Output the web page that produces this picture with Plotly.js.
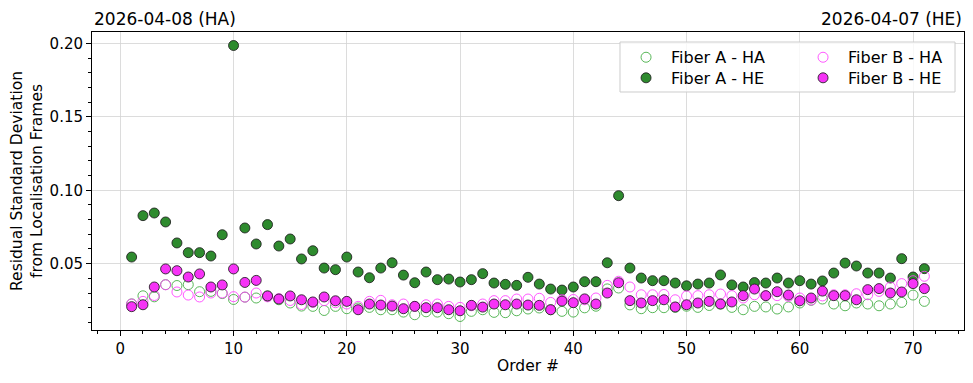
<!DOCTYPE html>
<html>
<head>
<meta charset="utf-8">
<script src="https://cdn.plot.ly/plotly-3.0.1.min.js"></script>
<style>html,body{margin:0;padding:0;background:#fff;}#chart{width:973px;height:383px;}</style>
</head>
<body>
<div id="chart"></div>
<script>
const orders = Array.from({length: 71}, (_, i) => i + 1);

const fiberA_HA = [0.0226,0.0281,0.0274,0.0357,0.0351,0.0357,0.0309,0.0311,0.0296,0.0256,
0.0272,0.0266,0.0280,0.0254,0.0232,0.0211,0.0209,0.0181,0.0209,0.0193,
0.0198,0.0202,0.0186,0.0186,0.0170,0.0152,0.0172,0.0170,0.0159,0.0140,
0.0175,0.0186,0.0168,0.0166,0.0179,0.0191,0.0198,0.0186,0.0175,0.0170,
0.0199,0.0210,0.0328,0.0334,0.0219,0.0193,0.0200,0.0200,0.0202,0.0210,
0.0202,0.0215,0.0225,0.0202,0.0186,0.0209,0.0205,0.0191,0.0205,0.0232,
0.0250,0.0259,0.0225,0.0213,0.0232,0.0225,0.0213,0.0225,0.0236,0.0286,0.0243];

const fiberA_HE = [0.0545,0.0827,0.0845,0.0784,0.0641,0.0575,0.0575,0.0552,0.0697,0.1986,
0.0743,0.0634,0.0766,0.0620,0.0668,0.0532,0.0588,0.0470,0.0459,0.0545,
0.0443,0.0404,0.0470,0.0506,0.0422,0.0370,0.0443,0.0391,0.0395,0.0375,
0.0391,0.0432,0.0368,0.0359,0.0352,0.0407,0.0361,0.0327,0.0320,0.0341,
0.0377,0.0377,0.0506,0.0963,0.0470,0.0402,0.0384,0.0384,0.0368,0.0349,
0.0361,0.0368,0.0423,0.0355,0.0341,0.0371,0.0368,0.0402,0.0368,0.0384,
0.0361,0.0382,0.0436,0.0504,0.0484,0.0436,0.0436,0.0402,0.0534,0.0409,0.0466];

const fiberB_HA = [0.0225,0.0243,0.0283,0.0356,0.0307,0.0286,0.0273,0.0300,0.0300,0.0275,
0.0272,0.0300,0.0274,0.0262,0.0249,0.0222,0.0236,0.0248,0.0234,0.0225,
0.0209,0.0243,0.0250,0.0220,0.0225,0.0209,0.0220,0.0225,0.0209,0.0202,
0.0213,0.0225,0.0248,0.0248,0.0259,0.0259,0.0264,0.0236,0.0254,0.0256,
0.0254,0.0266,0.0352,0.0380,0.0341,0.0288,0.0288,0.0290,0.0254,0.0280,
0.0282,0.0288,0.0293,0.0282,0.0266,0.0288,0.0282,0.0282,0.0277,0.0266,
0.0252,0.0280,0.0288,0.0288,0.0295,0.0288,0.0311,0.0341,0.0364,0.0384,0.0414];

const fiberB_HE = [0.0207,0.0220,0.0341,0.0464,0.0452,0.0409,0.0430,0.0341,0.0355,0.0464,
0.0372,0.0386,0.0280,0.0259,0.0280,0.0254,0.0239,0.0273,0.0247,0.0243,
0.0186,0.0225,0.0218,0.0211,0.0193,0.0209,0.0200,0.0200,0.0186,0.0179,
0.0216,0.0204,0.0225,0.0220,0.0225,0.0218,0.0216,0.0186,0.0245,0.0234,
0.0260,0.0225,0.0300,0.0370,0.0248,0.0232,0.0248,0.0254,0.0205,0.0220,
0.0232,0.0243,0.0225,0.0239,0.0282,0.0327,0.0282,0.0309,0.0286,0.0247,
0.0266,0.0313,0.0282,0.0282,0.0254,0.0323,0.0330,0.0300,0.0307,0.0364,0.0330];

const seriesNames = ['Fiber A - HA', 'Fiber A - HE', 'Fiber B - HA', 'Fiber B - HE'];
const titleLeft = '2026-04-08 (HA)';
const titleRight = '2026-04-07 (HE)';
const xTicks = [0, 10, 20, 30, 40, 50, 60, 70];
const yTicks = [0.05, 0.10, 0.15, 0.20];

const FONT = 'DejaVu Sans, sans-serif';
const edge = 'rgba(30,30,30,0.85)';

// legend rows: row 1 = HA entries (legend), row 2 = HE entries (legend2)
const traces = [
  {x: orders, y: fiberA_HA, name: seriesNames[0], legend: 'legend', type: 'scatter', mode: 'markers',
   marker: {symbol: 'circle-open', size: 10, color: 'rgba(60,170,60,0.85)', line: {width: 1, color: 'rgba(60,170,60,0.85)'}}},
  {x: orders, y: fiberA_HE, name: seriesNames[1], legend: 'legend2', type: 'scatter', mode: 'markers',
   marker: {symbol: 'circle', size: 10, color: '#2e8b2e', line: {width: 1, color: edge}}},
  {x: orders, y: fiberB_HA, name: seriesNames[2], legend: 'legend', type: 'scatter', mode: 'markers',
   marker: {symbol: 'circle-open', size: 10, color: 'rgba(255,60,255,0.85)', line: {width: 1, color: 'rgba(255,60,255,0.85)'}}},
  {x: orders, y: fiberB_HE, name: seriesNames[3], legend: 'legend2', type: 'scatter', mode: 'markers',
   marker: {symbol: 'circle', size: 10, color: '#f633f6', line: {width: 1, color: edge}}}
];

const axisCommon = {
  showline: true, mirror: true, linecolor: '#000', linewidth: 1,
  ticks: 'outside', ticklen: 5, tickwidth: 1, tickcolor: '#000',
  showgrid: true, gridcolor: '#d3d3d3', gridwidth: 0.8,
  zeroline: false,
  tickfont: {family: FONT, size: 15, color: '#000'}
};

const legendCommon = {
  orientation: 'h', xanchor: 'left', yanchor: 'top', x: 0.6067,
  entrywidth: 122, entrywidthmode: 'pixels',
  bgcolor: 'rgba(0,0,0,0)', borderwidth: 0,
  font: {family: FONT, size: 16, color: '#000'},
  traceorder: 'normal', itemwidth: 40
};

const layout = {
  width: 973, height: 383,
  paper_bgcolor: '#fff', plot_bgcolor: '#fff',
  margin: {l: 92, r: 9, t: 32, b: 53, autoexpand: false},
  font: {family: FONT, color: '#000'},
  showlegend: true,
  legend: Object.assign({}, legendCommon, {y: 0.972}),
  legend2: Object.assign({}, legendCommon, {y: 0.903}),
  shapes: [
    {type: 'rect', xref: 'paper', yref: 'paper', x0: 0.6055, x1: 0.9897, y0: 0.7987, y1: 0.9664,
     line: {color: '#cccccc', width: 1}, fillcolor: 'rgba(255,255,255,0.8)', layer: 'above'}
  ],
  xaxis: Object.assign({}, axisCommon, {
    range: [-2.5, 74.5], tickmode: 'array', tickvals: xTicks,
    minor: {dtick: 2, tick0: 0, ticks: 'outside', ticklen: 3, tickcolor: '#000', showgrid: false},
    title: {text: 'Order #', font: {family: FONT, size: 15.5, color: '#000'}, standoff: 3}
  }),
  yaxis: Object.assign({}, axisCommon, {
    range: [0.0048, 0.2078], tickmode: 'array', tickvals: yTicks, tickformat: '.2f',
    minor: {dtick: 0.01, tick0: 0, ticks: 'outside', ticklen: 3, tickcolor: '#000', showgrid: false},
    title: {text: 'Residual Standard Deviation<br>from Localisation Frames', font: {family: FONT, size: 15.5, color: '#000'}, standoff: 3}
  }),
  annotations: [
    {text: titleLeft, xref: 'paper', yref: 'paper', x: 0, y: 1, xanchor: 'left', yanchor: 'bottom',
     showarrow: false, yshift: 1, font: {family: FONT, size: 17, color: '#000'}},
    {text: titleRight, xref: 'paper', yref: 'paper', x: 1, y: 1, xanchor: 'right', yanchor: 'bottom',
     showarrow: false, yshift: 1, font: {family: FONT, size: 17, color: '#000'}}
  ]
};

Plotly.newPlot('chart', traces, layout, {displayModeBar: false, staticPlot: true});
</script>
</body>
</html>
